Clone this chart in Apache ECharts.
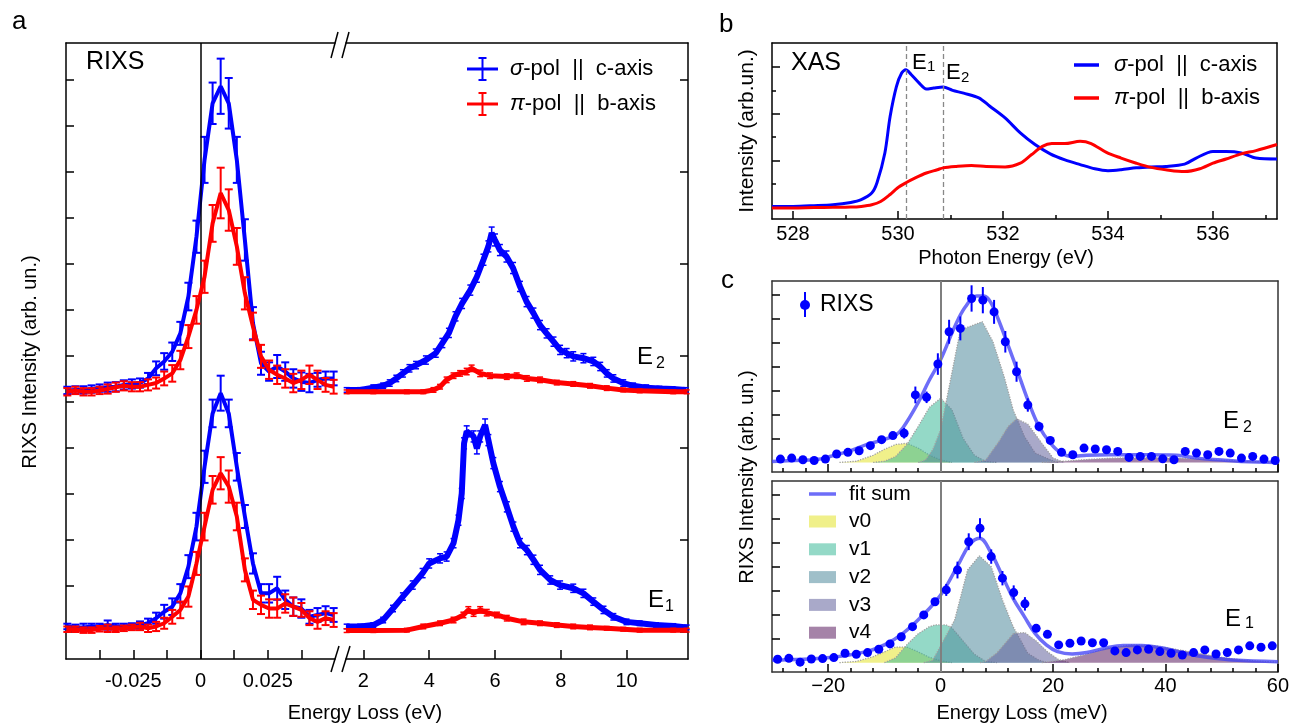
<!DOCTYPE html>
<html>
<head>
<meta charset="utf-8">
<title>RIXS / XAS</title>
<script src="https://cdn.jsdelivr.net/npm/echarts@6/dist/echarts.min.js"></script>
<style>
  html, body { margin: 0; padding: 0; background: #fff; }
  #chart { width: 1292px; height: 724px; }
</style>
</head>
<body>
<div id="chart"></div>
<script>
var FONT = '"Liberation Sans", Arial, sans-serif'
var BLUE = '#0000ff'
var RED = '#ff0000'

// ---- panel a, elastic part (energy loss, eV)
var xaLeft = [-0.0495, -0.0465, -0.0435, -0.0405, -0.0375, -0.0345, -0.0315, -0.0285, -0.0255, -0.0225, -0.0195, -0.0165, -0.0135, -0.0105, -0.0075, -0.0045, -0.0015,
  0.0015, 0.0045, 0.0075, 0.0105, 0.0135, 0.0165, 0.0195, 0.0225, 0.0255, 0.0285, 0.0315, 0.0345, 0.0375, 0.0405, 0.0435, 0.0465, 0.0495]
var aE2BlueL = [5.25, 5.26, 5.26, 5.28, 5.30, 5.32, 5.33, 5.37, 5.39, 5.41, 5.51, 5.73, 5.88, 6.09, 6.49, 7.29, 8.59,
  10.26, 11.49, 11.86, 11.49, 10.26, 8.52, 6.71, 5.84, 5.66, 5.77, 5.66, 5.51, 5.44, 5.41, 5.48, 5.51, 5.51]
var aE2BlueLErr = [0.08, 0.08, 0.08, 0.08, 0.08, 0.1, 0.1, 0.1, 0.1, 0.1, 0.12, 0.15, 0.18, 0.2, 0.25, 0.3, 0.35,
  0.5, 0.45, 0.6, 0.55, 0.5, 0.45, 0.35, 0.25, 0.2, 0.25, 0.2, 0.2, 0.2, 0.2, 0.15, 0.15, 0.15]
var aE2RedL = [5.22, 5.25, 5.22, 5.22, 5.25, 5.28, 5.32, 5.35, 5.33, 5.33, 5.37, 5.41, 5.51, 5.62, 5.91, 6.42, 7.00,
  7.72, 8.88, 9.54, 9.17, 8.38, 7.36, 6.64, 5.99, 5.70, 5.59, 5.51, 5.41, 5.48, 5.59, 5.48, 5.37, 5.33]
var aE2RedLErr = [0.08, 0.08, 0.08, 0.08, 0.08, 0.1, 0.1, 0.1, 0.1, 0.1, 0.12, 0.12, 0.15, 0.18, 0.2, 0.25, 0.3,
  0.35, 0.4, 0.55, 0.45, 0.4, 0.35, 0.3, 0.25, 0.2, 0.2, 0.2, 0.2, 0.2, 0.2, 0.2, 0.15, 0.15]
var aE1BlueL = [0.12, 0.10, 0.10, 0.12, 0.12, 0.15, 0.12, 0.12, 0.13, 0.15, 0.19, 0.30, 0.44, 0.55, 0.84, 1.42, 2.29,
  3.59, 4.75, 5.19, 4.75, 3.59, 2.51, 1.49, 0.84, 0.84, 0.95, 0.70, 0.55, 0.51, 0.33, 0.37, 0.41, 0.37]
var aE1BlueLErr = [0.06, 0.06, 0.08, 0.06, 0.06, 0.1, 0.06, 0.06, 0.06, 0.08, 0.1, 0.12, 0.15, 0.18, 0.2, 0.25, 0.3,
  0.35, 0.3, 0.38, 0.3, 0.3, 0.25, 0.22, 0.2, 0.2, 0.25, 0.2, 0.2, 0.2, 0.15, 0.15, 0.15, 0.15]
var aE1RedL = [0.06, 0.06, 0.04, 0.04, 0.07, 0.08, 0.06, 0.08, 0.10, 0.12, 0.08, 0.12, 0.19, 0.33, 0.48, 0.77, 1.49,
  2.29, 3.09, 3.45, 3.16, 2.51, 1.35, 0.70, 0.59, 0.51, 0.51, 0.62, 0.55, 0.48, 0.30, 0.22, 0.30, 0.26]
var aE1RedLErr = [0.06, 0.06, 0.06, 0.06, 0.06, 0.08, 0.06, 0.06, 0.06, 0.08, 0.08, 0.1, 0.12, 0.15, 0.18, 0.22, 0.25,
  0.3, 0.3, 0.35, 0.35, 0.3, 0.25, 0.2, 0.2, 0.2, 0.2, 0.2, 0.2, 0.15, 0.15, 0.15, 0.15, 0.15]

// ---- panel a, dd / charge-transfer part (eV)
var xaE2BlueR = [1.49, 1.9, 2.3, 2.6, 2.8, 3.0, 3.2, 3.4, 3.6, 3.9, 4.2, 4.4, 4.6, 4.8, 5.0, 5.25, 5.45, 5.65, 5.8, 5.9,
  6.0, 6.15, 6.35, 6.55, 6.76, 6.96, 7.17, 7.37, 7.57, 7.78, 7.98, 8.18, 8.38, 8.69, 8.99, 9.2, 9.4, 9.6, 9.9, 10.2, 10.6, 11.0, 11.4, 11.8]
var aE2BlueR = [5.26, 5.26, 5.31, 5.35, 5.41, 5.51, 5.62, 5.73, 5.80, 5.91, 6.06, 6.28, 6.50, 6.86, 7.14, 7.43, 7.72, 8.09, 8.38, 8.67,
  8.52, 8.30, 8.16, 7.91, 7.51, 7.18, 6.93, 6.67, 6.49, 6.31, 6.13, 6.06, 5.99, 5.95, 5.88, 5.77, 5.62, 5.51, 5.41, 5.35, 5.31, 5.29, 5.28, 5.26]
var aE2BlueRErr = [0.05, 0.05, 0.06, 0.06, 0.07, 0.07, 0.08, 0.08, 0.08, 0.09, 0.09, 0.1, 0.1, 0.1, 0.11, 0.11, 0.12, 0.12, 0.12, 0.13,
  0.13, 0.12, 0.12, 0.12, 0.11, 0.11, 0.11, 0.1, 0.1, 0.1, 0.1, 0.1, 0.1, 0.1, 0.09, 0.09, 0.08, 0.08, 0.07, 0.06, 0.06, 0.05, 0.05, 0.05]
var xaE2RedR = [1.49, 2.3, 3.32, 3.82, 4.13, 4.33, 4.53, 4.74, 4.94, 5.14, 5.29, 5.55, 5.85, 6.36, 6.66, 6.97, 7.37, 7.88, 8.38, 8.89, 9.4, 9.9, 10.4, 11.42, 11.83]
var aE2RedR = [5.22, 5.22, 5.22, 5.22, 5.26, 5.33, 5.48, 5.57, 5.62, 5.66, 5.73, 5.62, 5.57, 5.55, 5.57, 5.51, 5.48, 5.42, 5.39, 5.35, 5.30, 5.26, 5.24, 5.22, 5.22]
var aE2RedRErr = [0.04, 0.04, 0.04, 0.04, 0.05, 0.05, 0.06, 0.06, 0.06, 0.07, 0.07, 0.07, 0.06, 0.06, 0.06, 0.06, 0.06, 0.05, 0.05, 0.05, 0.05, 0.04, 0.04, 0.04, 0.04]
var xaE1BlueR = [1.49, 1.9, 2.3, 2.6, 2.9, 3.2, 3.5, 3.8, 4.0, 4.33, 4.53, 4.74, 4.89, 4.99, 5.06, 5.14, 5.35, 5.45, 5.55, 5.7,
  5.8, 5.95, 6.15, 6.36, 6.56, 6.76, 6.97, 7.17, 7.37, 7.68, 7.98, 8.38, 8.69, 8.99, 9.3, 9.6, 10.0, 10.4, 10.9, 11.42, 11.83]
var aE1BlueR = [0.12, 0.12, 0.15, 0.26, 0.51, 0.77, 1.02, 1.28, 1.49, 1.60, 1.64, 1.93, 2.43, 3.01, 4.10, 4.36, 4.25, 3.99, 4.25, 4.50,
  4.17, 3.67, 3.16, 2.72, 2.29, 1.93, 1.78, 1.57, 1.35, 1.13, 1.02, 0.95, 0.84, 0.66, 0.48, 0.33, 0.22, 0.19, 0.15, 0.13, 0.10]
var aE1BlueRErr = [0.05, 0.05, 0.05, 0.06, 0.07, 0.08, 0.09, 0.1, 0.1, 0.1, 0.1, 0.1, 0.11, 0.11, 0.12, 0.12, 0.12, 0.12, 0.12, 0.13,
  0.12, 0.12, 0.11, 0.11, 0.1, 0.1, 0.1, 0.1, 0.1, 0.09, 0.09, 0.09, 0.09, 0.08, 0.08, 0.07, 0.06, 0.05, 0.05, 0.05, 0.05]
var xaE1RedR = [1.49, 2.3, 3.32, 3.82, 4.33, 4.74, 5.04, 5.19, 5.35, 5.55, 5.75, 6.06, 6.36, 6.87, 7.37, 7.88, 8.38, 8.89, 9.4, 9.9, 10.4, 11.42, 11.83]
var aE1RedR = [0.03, 0.03, 0.04, 0.12, 0.19, 0.26, 0.37, 0.48, 0.41, 0.48, 0.42, 0.37, 0.30, 0.22, 0.19, 0.15, 0.12, 0.10, 0.08, 0.06, 0.04, 0.04, 0.04]
var aE1RedRErr = [0.04, 0.04, 0.04, 0.05, 0.05, 0.06, 0.06, 0.07, 0.07, 0.07, 0.07, 0.06, 0.06, 0.06, 0.05, 0.05, 0.05, 0.05, 0.04, 0.04, 0.04, 0.04, 0.04]

// ---- panel b, XAS (photon energy, eV)
var xXasBlue = [527.6, 528.0, 528.4, 528.76, 529.1, 529.3, 529.5, 529.6, 529.75, 529.85, 529.97, 530.07, 530.15, 530.25, 530.4,
  530.54, 530.68, 530.86, 531.04, 531.25, 531.54, 531.75, 532.04, 532.33, 532.61, 532.9, 533.18, 533.47, 533.75, 534.0,
  534.25, 534.54, 534.82, 535.1, 535.46, 535.68, 536.0, 536.25, 536.54, 536.82, 537.22]
var xasBlue = [0.015, 0.015, 0.03, 0.05, 0.10, 0.16, 0.30, 0.52, 1.16, 1.94, 2.58, 2.87, 2.94, 2.84, 2.66,
  2.53, 2.55, 2.57, 2.50, 2.44, 2.34, 2.16, 1.91, 1.59, 1.34, 1.14, 1.01, 0.91, 0.82, 0.78,
  0.80, 0.84, 0.86, 0.87, 0.92, 1.05, 1.19, 1.19, 1.16, 1.05, 1.03]
var xXasRed = [527.6, 528.0, 528.4, 528.76, 529.1, 529.3, 529.5, 529.67, 529.85, 529.99, 530.15, 530.32, 530.54, 530.75, 530.86,
  531.11, 531.4, 531.68, 532.04, 532.33, 532.54, 532.75, 532.93, 533.18, 533.47, 533.68, 533.97, 534.25, 534.54, 534.82,
  535.1, 535.46, 535.75, 536.0, 536.25, 536.54, 536.82, 537.22]
var xasRed = [-0.02, -0.02, -0.01, -0.006, 0.0, 0.015, 0.05, 0.12, 0.27, 0.41, 0.52, 0.62, 0.73, 0.80, 0.84,
  0.87, 0.89, 0.87, 0.86, 0.94, 1.12, 1.30, 1.36, 1.36, 1.41, 1.36, 1.17, 1.05, 0.94, 0.85,
  0.80, 0.76, 0.82, 0.94, 1.03, 1.14, 1.21, 1.34]
var xasMarks = [530.15, 530.86]

// ---- panel c, low-energy RIXS (meV)
var xcTop = [-28.5, -26.5, -24.5, -22.5, -20.5, -18.5, -16.5, -14.5, -12.5, -10.5, -8.5, -6.5, -4.5, -2.5, -0.5, 1.5, 3.5, 5.5, 7.5, 9.5,
  11.5, 13.5, 15.5, 17.5, 19.5, 21.5, 23.5, 25.5, 27.5, 29.5, 31.5, 33.5, 35.5, 37.5, 39.5, 41.5, 43.5, 45.5, 47.5, 49.5, 51.5, 53.5, 55.5, 57.5, 59.5]
var cE2Dots = [0.14, 0.18, 0.11, 0.08, 0.14, 0.35, 0.42, 0.49, 0.70, 0.95, 1.12, 1.22, 2.82, 2.72, 4.11, 5.46, 5.60, 6.85, 6.78, 6.29,
  5.04, 3.79, 2.40, 1.50, 0.92, 0.42, 0.32, 0.60, 0.56, 0.53, 0.46, 0.21, 0.25, 0.25, 0.15, 0.11, 0.46, 0.39, 0.32, 0.46, 0.39, 0.18, 0.25, 0.14, 0.08]
var cE2Err = [0.05, 0.05, 0.05, 0.05, 0.05, 0.05, 0.05, 0.05, 0.08, 0.1, 0.14, 0.22, 0.35, 0.24, 0.45, 0.5, 0.5, 0.55, 0.55, 0.5,
  0.45, 0.42, 0.28, 0.2, 0.1, 0.06, 0.05, 0.06, 0.06, 0.06, 0.06, 0.05, 0.05, 0.05, 0.05, 0.05, 0.06, 0.06, 0.05, 0.06, 0.06, 0.05, 0.05, 0.05, 0.05]
var xcBot = [-29, -27, -25, -23, -21, -19, -17, -15, -13, -11, -9, -7, -5, -3, -1, 1, 3, 5, 7, 9,
  11, 13, 15, 17, 19, 21, 23, 25, 27, 29, 31, 33, 35, 37, 39, 41, 43, 45, 47, 49, 51, 53, 55, 57, 59]
var cE1Dots = [0.14, 0.18, 0.02, 0.15, 0.17, 0.21, 0.39, 0.35, 0.42, 0.56, 0.78, 1.08, 1.50, 1.99, 2.54, 3.03, 3.86, 5.04, 5.60, 4.42,
  3.52, 2.92, 2.45, 1.43, 1.18, 0.74, 0.81, 0.90, 0.83, 0.83, 0.49, 0.42, 0.53, 0.56, 0.46, 0.39, 0.32, 0.42, 0.53, 0.36, 0.42, 0.53, 0.70, 0.64, 0.70]
var cE1Err = [0.05, 0.05, 0.05, 0.05, 0.05, 0.05, 0.05, 0.05, 0.05, 0.05, 0.06, 0.08, 0.1, 0.12, 0.15, 0.25, 0.35, 0.35, 0.42, 0.3,
  0.3, 0.3, 0.28, 0.12, 0.1, 0.06, 0.05, 0.05, 0.05, 0.05, 0.05, 0.05, 0.05, 0.05, 0.05, 0.05, 0.05, 0.05, 0.05, 0.05, 0.05, 0.05, 0.05, 0.05, 0.05]

var xFitE2 = [-30, -26, -22, -19.7, -16.4, -13.2, -10.6, -8, -6.7, -4, -2.1, 0, 2.5, 4.4, 6.4, 7.7, 9, 10.3, 12.3, 13.6, 15.5, 17.5, 19.5, 21.4, 23.4, 26, 30, 36, 42, 45.6, 50, 53.4, 60]
var fitE2 = [0.04, 0.08, 0.12, 0.25, 0.46, 0.74, 0.92, 1.15, 1.45, 2.5, 3.4, 4.3, 5.67, 6.5, 6.95, 6.95, 6.65, 5.95, 4.7, 3.86, 2.61, 1.5, 0.81, 0.39, 0.25, 0.3, 0.32, 0.32, 0.3, 0.18, 0.1, 0.04, 0.0]
var xFitE1 = [-30, -19.7, -13.2, -9.9, -6.7, -3.4, 0, 3.1, 5.1, 6.9, 9, 11, 12.9, 14.9, 16.8, 18.8, 20.8, 23.4, 26, 29.2, 32.5, 35.8, 39, 42.3, 45.6, 48.8, 52, 60]
var fitE1 = [0.1, 0.21, 0.46, 0.75, 1.22, 1.92, 2.82, 4.07, 4.9, 5.18, 4.56, 3.6, 2.68, 1.92, 1.22, 0.74, 0.46, 0.36, 0.42, 0.6, 0.71, 0.71, 0.63, 0.46, 0.29, 0.18, 0.11, 0.04]

// fit components, E2
var xV0E2 = [-18, -15, -12, -10, -8, -6, -4, -2, 0, 2]
var v0E2 = [0, 0.05, 0.3, 0.55, 0.75, 0.8, 0.6, 0.3, 0.1, 0]
var xV1E2 = [-12, -10, -8, -6, -4, -2, 0, 2, 4, 6, 8, 10]
var v1E2 = [0, 0.05, 0.25, 0.75, 1.5, 2.3, 2.68, 2.2, 1.0, 0.3, 0.04, 0]
var xV2E2 = [-4, -2.7, -1.4, 0, 3.5, 7.4, 9.3, 11.3, 12.9, 14.9, 16.8, 19.5, 21]
var v2E2 = [0, 0.1, 0.53, 1.36, 5.53, 5.88, 5.04, 3.58, 2.19, 1.08, 0.39, 0.11, 0]
var xV3E2 = [6, 8, 10.3, 12, 13.5, 15.5, 18, 20, 22]
var v3E2 = [0, 0.1, 0.85, 1.5, 1.82, 1.6, 0.8, 0.18, 0]
var xV4E2 = [18, 22, 26, 30, 34, 38, 42, 46, 50, 54, 58, 60]
var v4E2 = [0, 0.05, 0.12, 0.17, 0.2, 0.2, 0.18, 0.14, 0.09, 0.05, 0.02, 0.01]
// fit components, E1
var xV0E1 = [-18, -15, -12, -10, -8, -6, -4, -2, 0, 2]
var v0E1 = [0, 0.05, 0.25, 0.45, 0.65, 0.65, 0.45, 0.22, 0.08, 0]
var xV1E1 = [-10, -8, -6, -4, -2, -1, 1, 2, 4, 6, 8, 10]
var v1E1 = [0, 0.2, 0.75, 1.2, 1.5, 1.57, 1.57, 1.45, 0.9, 0.35, 0.05, 0]
var xV2E1 = [-3, -1.4, 2.5, 4.8, 6.9, 9, 11, 12.9, 15.5, 17.5, 19]
var v2E1 = [0, 0.1, 1.78, 3.86, 4.45, 4.0, 2.61, 1.5, 0.39, 0.1, 0]
var xV3E1 = [7, 8, 10, 12, 13, 15, 17, 19, 21, 23]
var v3E1 = [0, 0.05, 0.4, 0.95, 1.22, 1.25, 0.9, 0.45, 0.12, 0]
var xV4E1 = [18, 22, 26, 30, 34, 38, 42, 46, 50, 54, 58, 60]
var v4E1 = [0, 0.12, 0.35, 0.62, 0.74, 0.7, 0.55, 0.38, 0.22, 0.1, 0.04, 0.02]

var compNames = ['v0', 'v1', 'v2', 'v3', 'v4']
var compColors = ['#e4e42a', '#3cba99', '#518b9d', '#63639d', '#5b1e61']

// tick positions
var aLeftTicks = [-0.0375, -0.025, -0.0125, 0, 0.0125, 0.025, 0.0375]
var aLeftLabels = [-0.025, 0, 0.025]
var aRightTicks = [2, 4, 6, 8, 10]
var aYTicksL = [0, 1, 2, 3, 4, 5, 6, 7, 8, 9, 10, 11, 12]
var aYTicksR = [0, 2, 4, 6, 8, 10, 12]
var bXMajor = [528, 530, 532, 534, 536]
var bXMinor = [529, 531, 533, 535, 537]
var bYMajor = [1, 2, 3]
var bYMinor = [0.5, 1.5, 2.5]
var cXMajor = [-20, 0, 20, 40, 60]
var cXMinor = [-28, -24, -16, -12, -8, -4, 4, 8, 12, 16, 24, 28, 32, 36, 44, 48, 52, 56]
var cYTicks = [1, 2, 3, 4, 5, 6, 7]

function pairs (xs, ys) {
  return xs.map(function (x, i) { return [x, ys[i]] })
}

function lineSeries (xs, ys, color, width, xi, yi, z, smooth) {
  return {
    type: 'line', xAxisIndex: xi, yAxisIndex: yi, data: pairs(xs, ys),
    symbol: 'none', smooth: smooth || false, silent: true, z: z,
    lineStyle: { color: color, width: width }
  }
}

// vertical error bars, optional caps
function errSeries (xs, ys, errs, color, width, cap, xi, yi, z) {
  return {
    type: 'custom', xAxisIndex: xi, yAxisIndex: yi, silent: true, z: z,
    data: xs.map(function (x, i) { return [x, ys[i] - errs[i], ys[i] + errs[i]] }),
    encode: { x: 0, y: [1, 2] },
    renderItem: function (params, api) {
      var lo = api.coord([api.value(0), api.value(1)])
      var hi = api.coord([api.value(0), api.value(2)])
      var st = { stroke: color, lineWidth: width }
      var kids = [{ type: 'line', shape: { x1: lo[0], y1: lo[1], x2: hi[0], y2: hi[1] }, style: st }]
      if (cap) {
        kids.push({ type: 'line', shape: { x1: lo[0] - cap, y1: lo[1], x2: lo[0] + cap, y2: lo[1] }, style: st })
        kids.push({ type: 'line', shape: { x1: hi[0] - cap, y1: hi[1], x2: hi[0] + cap, y2: hi[1] }, style: st })
      }
      return { type: 'group', children: kids }
    }
  }
}

function compSeries (xs, ys, k, xi, yi) {
  return {
    type: 'line', name: compNames[k], xAxisIndex: xi, yAxisIndex: yi, data: pairs(xs, ys),
    symbol: 'none', silent: true, z: 2 + k * 0.01,
    lineStyle: { color: '#a0a0a0', width: 1.3, type: 'dotted' },
    areaStyle: { color: compColors[k], opacity: 0.55 }
  }
}

function dotSeries (xs, ys, xi, yi) {
  return {
    type: 'scatter', xAxisIndex: xi, yAxisIndex: yi, data: pairs(xs, ys),
    symbol: 'circle', symbolSize: 9, silent: true, z: 6,
    itemStyle: { color: BLUE, opacity: 1 }
  }
}

var AX = { color: '#000', width: 1.5 }
var AXC = { color: '#333', width: 1.5 }

function valAxis (gi, pos, min, max, extra) {
  return Object.assign({
    type: 'value', gridIndex: gi, position: pos, min: min, max: max,
    splitLine: { show: false }, axisPointer: { show: false }
  }, extra)
}
function frameAxis (gi, pos, min, max, color) {
  return valAxis(gi, pos, min, max, {
    axisLine: { show: true, onZero: false, lineStyle: color },
    axisTick: { show: false }, axisLabel: { show: false }
  })
}
function tickAxis (gi, pos, min, max, ticks, len, lineStyle, labels, fmt, margin) {
  return valAxis(gi, pos, min, max, {
    axisLine: lineStyle ? { show: true, onZero: false, lineStyle: lineStyle } : { show: false, onZero: false },
    axisTick: { show: true, inside: true, length: len, customValues: ticks, lineStyle: { color: '#000', width: 1.5 } },
    axisLabel: labels ? {
      show: true, customValues: labels, formatter: fmt, margin: margin,
      fontFamily: FONT, fontSize: 20, color: '#000'
    } : { show: false }
  })
}

var fmtA = function (v) { return v === 0 ? '0' : String(v) }
var fmtPlain = function (v) { return String(v) }
var fmtC = function (v) { return v < 0 ? '\u2212' + Math.abs(v) : String(v) }

var xAxes = [
  tickAxis(0, 'bottom', -0.05, 0.05, aLeftTicks, 9, AX, aLeftLabels, fmtA, 12),
  frameAxis(0, 'top', -0.05, 0.05, AX),
  tickAxis(1, 'bottom', 1.47, 11.87, aRightTicks, 9, AX, aRightTicks, fmtPlain, 12),
  frameAxis(1, 'top', 1.47, 11.87, AX),
  tickAxis(2, 'bottom', 527.6, 537.22, bXMajor, 8, AX, bXMajor, fmtPlain, 5),
  tickAxis(2, 'bottom', 527.6, 537.22, bXMinor, 4, null, null),
  frameAxis(2, 'top', 527.6, 537.22, AX),
  tickAxis(3, 'bottom', -30, 60, cXMajor, 8, AXC, null),
  tickAxis(3, 'bottom', -30, 60, cXMinor, 4, null, null),
  frameAxis(3, 'top', -30, 60, AXC),
  tickAxis(4, 'bottom', -30, 60, cXMajor, 8, AXC, cXMajor.slice(0, 5), fmtC, 4),
  tickAxis(4, 'bottom', -30, 60, cXMinor, 4, null, null),
  frameAxis(4, 'top', -30, 60, AXC)
]

var yAxes = [
  tickAxis(0, 'left', -0.587, 12.8, aYTicksL, 8, AX, null),
  tickAxis(1, 'right', -0.587, 12.8, aYTicksR, 8, AX, null),
  tickAxis(2, 'left', -0.255, 3.514, bYMajor, 8, AX, null),
  tickAxis(2, 'left', -0.255, 3.514, bYMinor, 4, null, null),
  frameAxis(2, 'right', -0.255, 3.514, AX),
  tickAxis(3, 'left', -0.4, 7.58, cYTicks, 8, AXC, null),
  frameAxis(3, 'right', -0.4, 7.58, AXC),
  tickAxis(4, 'left', -0.39, 7.57, cYTicks, 8, AXC, null),
  frameAxis(4, 'right', -0.39, 7.57, AXC)
]

var series = []
// panel a, left part
var zeroLine = lineSeries(xaLeft, aE2BlueL, BLUE, 4, 0, 0, 4)
zeroLine.markLine = {
  silent: true, symbol: 'none', label: { show: false }, animation: false,
  lineStyle: { color: '#000', width: 1.5, type: 'solid' }, data: [{ xAxis: 0 }]
}
series.push(zeroLine)
series.push(errSeries(xaLeft, aE2BlueL, aE2BlueLErr, BLUE, 2, 4, 0, 0, 4))
series.push(lineSeries(xaLeft, aE1BlueL, BLUE, 4, 0, 0, 4))
series.push(errSeries(xaLeft, aE1BlueL, aE1BlueLErr, BLUE, 2, 4, 0, 0, 4))
series.push(lineSeries(xaLeft, aE2RedL, RED, 4, 0, 0, 5))
series.push(errSeries(xaLeft, aE2RedL, aE2RedLErr, RED, 2, 4, 0, 0, 5))
series.push(lineSeries(xaLeft, aE1RedL, RED, 4, 0, 0, 5))
series.push(errSeries(xaLeft, aE1RedL, aE1RedLErr, RED, 2, 4, 0, 0, 5))
// panel a, right part (dense data drawn as a thick band)
series.push(lineSeries(xaE2BlueR, aE2BlueR, BLUE, 6, 2, 1, 4))
series.push(errSeries(xaE2BlueR, aE2BlueR, aE2BlueRErr, BLUE, 1.5, 3, 2, 1, 4))
series.push(lineSeries(xaE1BlueR, aE1BlueR, BLUE, 6, 2, 1, 4))
series.push(errSeries(xaE1BlueR, aE1BlueR, aE1BlueRErr, BLUE, 1.5, 3, 2, 1, 4))
series.push(lineSeries(xaE2RedR, aE2RedR, RED, 5, 2, 1, 5))
series.push(errSeries(xaE2RedR, aE2RedR, aE2RedRErr, RED, 1.5, 3, 2, 1, 5))
series.push(lineSeries(xaE1RedR, aE1RedR, RED, 5, 2, 1, 5))
series.push(errSeries(xaE1RedR, aE1RedR, aE1RedRErr, RED, 1.5, 3, 2, 1, 5))
// panel b
var xasB = lineSeries(xXasBlue, xasBlue, BLUE, 3, 4, 2, 4, 0.3)
xasB.markLine = {
  silent: true, symbol: 'none', label: { show: false }, animation: false,
  lineStyle: { color: '#888', width: 1.3, type: [5, 3] },
  data: xasMarks.map(function (v) { return { xAxis: v } })
}
series.push(xasB)
series.push(lineSeries(xXasRed, xasRed, RED, 3, 4, 2, 5, 0.3))
// panel c
var compsE2 = [[xV0E2, v0E2], [xV1E2, v1E2], [xV2E2, v2E2], [xV3E2, v3E2], [xV4E2, v4E2]]
var compsE1 = [[xV0E1, v0E1], [xV1E1, v1E1], [xV2E1, v2E1], [xV3E1, v3E1], [xV4E1, v4E1]]
compsE2.forEach(function (c, k) { series.push(compSeries(c[0], c[1], k, 7, 5)) })
compsE1.forEach(function (c, k) { series.push(compSeries(c[0], c[1], k, 10, 7)) })
;[[7, 5], [10, 7]].forEach(function (ax) {
  series.push({
    type: 'line', xAxisIndex: ax[0], yAxisIndex: ax[1], data: [], silent: true, z: 3,
    markLine: {
      silent: true, symbol: 'none', label: { show: false }, animation: false,
      lineStyle: { color: '#7f7f7f', width: 2, type: 'solid' }, data: [{ xAxis: 0 }]
    }
  })
})
series.push(lineSeries(xFitE2, fitE2, 'rgba(60,60,245,0.75)', 3.5, 7, 5, 4, 0.4))
series.push(lineSeries(xFitE1, fitE1, 'rgba(60,60,245,0.75)', 3.5, 10, 7, 4, 0.4))
series.push(dotSeries(xcTop, cE2Dots, 7, 5))
series.push(errSeries(xcTop, cE2Dots, cE2Err, BLUE, 2, 0, 7, 5, 7))
series.push(dotSeries(xcBot, cE1Dots, 10, 7))
series.push(errSeries(xcBot, cE1Dots, cE1Err, BLUE, 2, 0, 10, 7, 7))

// ---- text and decorations
function txt (s, x, y, size, opts) {
  return Object.assign({
    type: 'text', x: x, y: y, z: 100, silent: true,
    style: Object.assign({ text: s, fontFamily: FONT, fontSize: size, fill: '#000', textAlign: 'left', textVerticalAlign: 'middle' }, (opts && opts.style) || {})
  }, (opts && opts.el) || {})
}
function seg (x1, y1, x2, y2, color, w) {
  return { type: 'line', z: 100, silent: true, shape: { x1: x1, y1: y1, x2: x2, y2: y2 }, style: { stroke: color, lineWidth: w } }
}
function italicLabel (greek, rest, x, y, size) {
  return txt('{g|' + greek + '}' + rest, x, y, size, {
    style: { rich: { g: { fontStyle: 'italic', fontFamily: FONT, fontSize: size, fill: '#000' } } }
  })
}
function eLabel (n, x, y, size, subSize, dx, dy) {
  return [txt('E', x, y, size), txt(String(n), x + dx, y + dy, subSize)]
}
function vtitle (s, x, y, size) {
  return txt(s, x, y, size, { style: { textAlign: 'center' }, el: { rotation: Math.PI / 2 } })
}

var graphics = [
  txt('a', 12, 22, 26), txt('b', 719, 25, 26), txt('c', 721, 281, 26),
  txt('RIXS', 86, 62, 25), txt('XAS', 791, 63, 25),
  vtitle('RIXS Intensity (arb. un.)', 30, 362, 20),
  vtitle('Intensity (arb.un.)', 747, 131, 21),
  vtitle('RIXS Intensity (arb. un.)', 747, 477, 20),
  txt('Energy Loss (eV)', 365, 713, 20, { style: { textAlign: 'center' } }),
  txt('Photon Energy (eV)', 1006, 258, 20, { style: { textAlign: 'center' } }),
  txt('Energy Loss (meV)', 1022, 713, 20, { style: { textAlign: 'center' } }),
  // axis breaks
  { type: 'rect', z: 99, silent: true, shape: { x: 336, y: 36, width: 9, height: 14 }, style: { fill: '#fff' } },
  { type: 'rect', z: 99, silent: true, shape: { x: 336, y: 652, width: 9, height: 14 }, style: { fill: '#fff' } },
  seg(331, 58, 338, 32, '#000', 1.5), seg(342, 58, 349, 32, '#000', 1.5),
  seg(331, 672, 339, 646, '#000', 1.5), seg(342, 672, 350, 646, '#000', 1.5),
  // legend, panel a
  seg(467, 69, 498, 69, BLUE, 3), seg(482.5, 58, 482.5, 80, BLUE, 2), seg(478.5, 58, 486.5, 58, BLUE, 2), seg(478.5, 80, 486.5, 80, BLUE, 2),
  seg(467, 104, 498, 104, RED, 3), seg(482.5, 93, 482.5, 115, RED, 2), seg(478.5, 93, 486.5, 93, RED, 2), seg(478.5, 115, 486.5, 115, RED, 2),
  italicLabel('\u03c3', '-pol  ||  c-axis', 510, 69, 22),
  italicLabel('\u03c0', '-pol  ||  b-axis', 510, 104, 22),
  // legend, panel b
  seg(1074, 65, 1099, 65, BLUE, 3.5), seg(1074, 98, 1099, 98, RED, 3.5),
  italicLabel('\u03c3', '-pol  ||  c-axis', 1114, 65, 22),
  italicLabel('\u03c0', '-pol  ||  b-axis', 1114, 98, 22),
  // legend, panel c
  { type: 'circle', z: 100, silent: true, shape: { cx: 805, cy: 305, r: 5 }, style: { fill: BLUE } },
  seg(805, 292, 805, 317, BLUE, 2),
  txt('RIXS', 820, 305, 23),
  seg(809, 494, 836, 494, 'rgba(60,60,245,0.75)', 3.5),
  txt('fit sum', 849, 494, 21)
]
compNames.forEach(function (n, k) {
  var cy = 521.5 + k * 27.8
  graphics.push({ type: 'rect', z: 100, silent: true, shape: { x: 809, y: cy - 6, width: 27, height: 12 }, style: { fill: compColors[k], opacity: 0.55 } })
  graphics.push(txt(n, 849, cy, 21))
})
graphics = graphics.concat(
  eLabel(2, 637, 357, 24, 16, 19, 7), eLabel(1, 648, 600, 24, 16, 17, 7),
  eLabel(1, 912, 63, 22, 15, 15, 4), eLabel(2, 946, 73, 22, 15, 15, 5),
  eLabel(2, 1223, 421, 24, 16, 20, 7), eLabel(1, 1225, 619, 24, 16, 20, 5)
)

var chart = echarts.init(document.getElementById('chart'), null, { renderer: 'canvas' })
chart.setOption({
  animation: false,
  backgroundColor: '#fff',
  grid: [
    { left: 66, top: 43, width: 269, height: 616 },
    { left: 346, top: 43, width: 342, height: 616 },
    { left: 772, top: 43, width: 505, height: 176 },
    { left: 772, top: 281, width: 506, height: 191 },
    { left: 772, top: 481, width: 506, height: 191 }
  ],
  xAxis: xAxes,
  yAxis: yAxes,
  series: series,
  graphic: graphics
})
</script>
</body>
</html>
